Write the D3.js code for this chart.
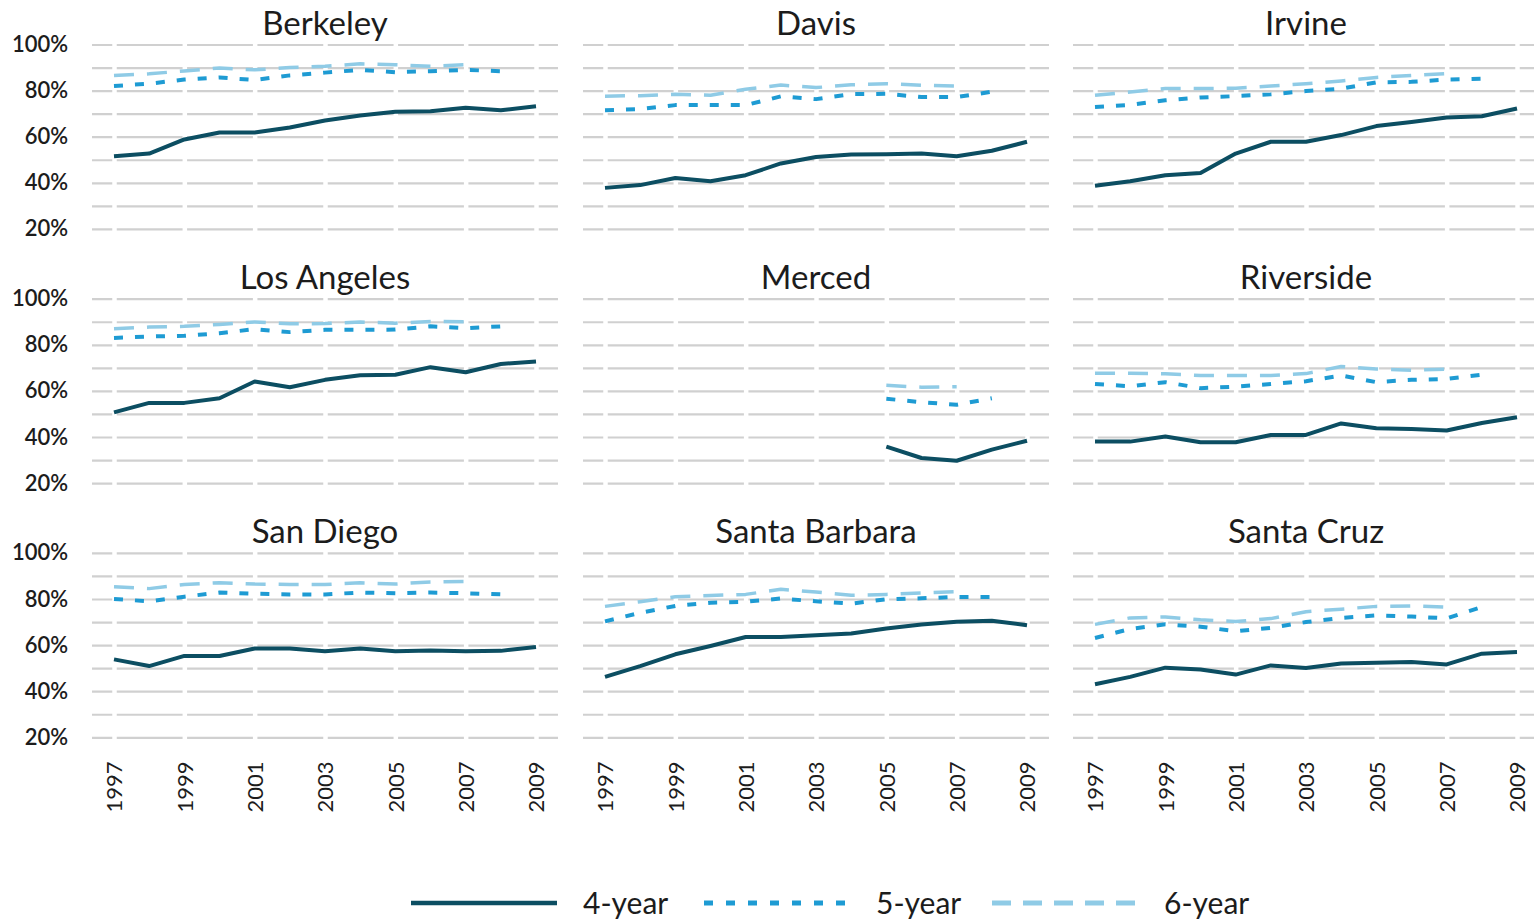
<!DOCTYPE html>
<html>
<head>
<meta charset="utf-8">
<script src="https://cdn.jsdelivr.net/npm/d3@7"></script>
<style>
body { margin: 0; background: #fff; }
text { font-family: Lato, "Noto Sans", sans-serif; fill: #1c1c1c; }
</style>
</head>
<body>
<script>
var years = [1997, 1998, 1999, 2000, 2001, 2002, 2003, 2004, 2005, 2006, 2007, 2008, 2009];
var yearTicks = [1997, 1999, 2001, 2003, 2005, 2007, 2009];
var pctTicks = [20, 40, 60, 80, 100];
var gridTicks = [20, 30, 40, 50, 60, 70, 80, 90, 100];
var seriesNames = ["4-year", "5-year", "6-year"];
var campuses = ["Berkeley", "Davis", "Irvine", "Los Angeles", "Merced", "Riverside",
                "San Diego", "Santa Barbara", "Santa Cruz"];

// graduation rates (%), one row per campus, 1997 ->
var fourYear = [
  [51.5, 52.7, 58.8, 61.8, 61.8, 64, 67, 69.2, 70.8, 71, 72.6, 71.5, 73.2],
  [37.8, 39, 42.1, 40.7, 43.3, 48.4, 51.2, 52.3, 52.4, 52.7, 51.5, 53.9, 57.8],
  [38.7, 40.7, 43.3, 44.3, 52.7, 57.8, 57.8, 60.7, 64.6, 66.4, 68.3, 68.9, 72.2],
  [50.7, 54.8, 54.8, 56.8, 64.1, 61.6, 64.8, 66.8, 67, 70.3, 68.1, 71.7, 72.8],
  [null, null, null, null, null, null, null, null, 35.8, 30.9, 29.7, 34.5, 38.4],
  [38, 38, 40.2, 37.7, 37.7, 40.9, 40.9, 45.9, 43.8, 43.5, 42.8, 46.1, 48.6],
  [53.8, 50.9, 55.3, 55.3, 58.5, 58.5, 57.3, 58.5, 57.3, 57.7, 57.3, 57.5, 59.2],
  [46.2, 50.9, 56, 59.6, 63.5, 63.5, 64.3, 65, 67.2, 68.9, 70.1, 70.6, 68.6],
  [43, 46.2, 50.2, 49.4, 47.2, 51.2, 50.1, 52, 52.3, 52.7, 51.6, 56.3, 57]
];
var fiveYear = [
  [82, 83, 84.8, 85.7, 84.6, 86.6, 87.8, 89, 88, 88.4, 89, 88.4],
  [71.5, 72, 73.7, 73.7, 73.7, 77.5, 76.3, 78.5, 78.6, 77.2, 77.2, 79.5],
  [72.9, 73.8, 75.8, 77, 77.6, 78.4, 79.8, 80.8, 83.6, 83.8, 84.8, 85.1],
  [83, 83.6, 83.9, 85, 86.8, 85.5, 86.5, 86.5, 86.6, 88, 87.2, 88],
  [null, null, null, null, null, null, null, null, 56.6, 55.1, 54, 56.8],
  [63, 62, 63.8, 61.2, 61.8, 63, 64.2, 66.7, 63.8, 64.8, 65.2, 67],
  [80, 79, 81, 82.8, 82.3, 82, 82, 82.8, 82.5, 82.8, 82.5, 82],
  [70.3, 74, 77, 78.4, 78.8, 80.2, 79, 78, 79.9, 80.3, 80.9, 80.9],
  [63.1, 67, 69, 68, 66, 67.5, 70, 71.8, 72.9, 72.4, 71.6, 76.5]
];
var sixYear = [
  [86.5, 87.3, 88.5, 89.8, 89, 90, 90.6, 91.6, 91.2, 90.6, 91.2],
  [77.6, 77.8, 78.4, 78, 80.6, 82.4, 81.3, 82.5, 83, 82.3, 82],
  [78, 79.4, 80.9, 80.9, 81, 82, 83, 84.2, 85.7, 86.6, 87.4],
  [87, 87.7, 88, 88.8, 89.9, 89.1, 89.2, 89.9, 89.4, 90.1, 90],
  [null, null, null, null, null, null, null, null, 62.4, 61.6, 61.8],
  [67.7, 67.7, 67.4, 66.7, 66.7, 66.7, 67.5, 70.6, 69.5, 69, 69.4],
  [85.3, 84.5, 86.3, 87.1, 86.5, 86.3, 86.3, 87, 86.5, 87.4, 87.6],
  [76.8, 78.8, 81, 81.5, 82, 84.2, 83, 81.6, 82, 82.6, 83.2],
  [69, 71.8, 72.2, 71, 70.2, 71.5, 74.5, 75.6, 76.8, 77, 76.5]
];

var width = 1534;
var height = 922;

var svg = d3.select("body").append("svg")
  .attr("width", width)
  .attr("height", height);

var colLeft = [114, 605, 1095];   // x of 1997 in each column
var rowTop = [44.5, 298.7, 552.9]; // y of 100% in each row
var span = 422;
var plotH = 184.4;
var pad = 22;

var styles = [
  {color: "#0c4e62", width: 4, dash: null},
  {color: "#1e9bd3", width: 4, dash: "9,12"},
  {color: "#8fcbe6", width: 3.5, dash: "20,13"}
];
var allSeries = [fourYear, fiveYear, sixYear];

campuses.forEach(function(name, i) {
  var col = i % 3;
  var row = Math.floor(i / 3);

  var x = d3.scaleLinear()
    .domain([1997, 2009])
    .range([colLeft[col], colLeft[col] + span]);

  var y = d3.scaleLinear()
    .domain([20, 100])
    .range([rowTop[row] + plotH, rowTop[row]]);

  var g = svg.append("g");

  // Gridlines
  var grid = g.append("g")
    .attr("transform", "translate(" + (colLeft[col] - pad) + ",0)")
    .call(d3.axisLeft(y).tickValues(gridTicks).tickFormat("").tickSize(-(span + 2 * pad)));
  grid.select(".domain").remove();
  grid.selectAll("line").attr("stroke", "#d0d0d0").attr("stroke-width", 2.2);

  // white breaks in the gridlines at every other year
  var gaps = g.append("g")
    .attr("transform", "translate(0," + (rowTop[row] - 4) + ")")
    .call(d3.axisBottom(x).tickValues(yearTicks).tickFormat("").tickSize(plotH + 8));
  gaps.select(".domain").remove();
  gaps.selectAll("line").attr("stroke", "#fff").attr("stroke-width", 4.5);

  // series, 6-year first so the 4-year sits on top
  [2, 1, 0].forEach(function(s) {
    var line = d3.line()
      .defined(function(d) { return d != null; })
      .x(function(d, k) { return x(years[k]); })
      .y(function(d) { return y(d); });

    g.append("path")
      .datum(allSeries[s][i])
      .attr("fill", "none")
      .attr("stroke", styles[s].color)
      .attr("stroke-width", styles[s].width)
      .attr("stroke-dasharray", styles[s].dash)
      .attr("stroke-linejoin", "round")
      .attr("d", line);
  });

  g.append("text")
    .attr("x", colLeft[col] + span / 2)
    .attr("y", rowTop[row] - 10)
    .attr("text-anchor", "middle")
    .style("font-size", "33px")
    .text(name);

  if (col == 0) {
    var yAxis = g.append("g")
      .attr("transform", "translate(68,0)")
      .call(d3.axisLeft(y).tickValues(pctTicks).tickSize(0).tickPadding(0)
        .tickFormat(function(d) { return d + "%"; }));
    yAxis.select(".domain").remove();
    yAxis.selectAll("text")
      .style("font-size", "22px")
      .style("font-weight", "600")
      .attr("fill", "#1c1c1c");
  }

  if (row == 2) {
    var xAxis = g.append("g")
      .call(d3.axisBottom(x).tickValues(yearTicks).tickSize(0).tickFormat(d3.format("d")));
    xAxis.select(".domain").remove();
    xAxis.selectAll("text")
      .attr("transform", "rotate(-90)")
      .attr("x", -787)
      .attr("y", 0)
      .attr("dy", "0.35em")
      .attr("text-anchor", "middle")
      .attr("fill", "#1c1c1c")
      .style("font-size", "22px");
  }
});

// Legend
var legendX = [411, 704, 992];
var legend = svg.append("g").attr("transform", "translate(0,903)");
seriesNames.forEach(function(n, s) {
  legend.append("line")
    .attr("x1", legendX[s])
    .attr("x2", legendX[s] + 146)
    .attr("y1", 0)
    .attr("y2", 0)
    .attr("stroke", styles[s].color)
    .attr("stroke-width", s == 0 ? 4.5 : 5)
    .attr("stroke-dasharray", s == 0 ? null : (s == 1 ? "9,13" : "19,12"));
  legend.append("text")
    .attr("x", legendX[s] + 172)
    .attr("y", 0)
    .attr("dy", "0.35em")
    .style("font-size", "30px")
    .text(n);
});
</script>
</body>
</html>
